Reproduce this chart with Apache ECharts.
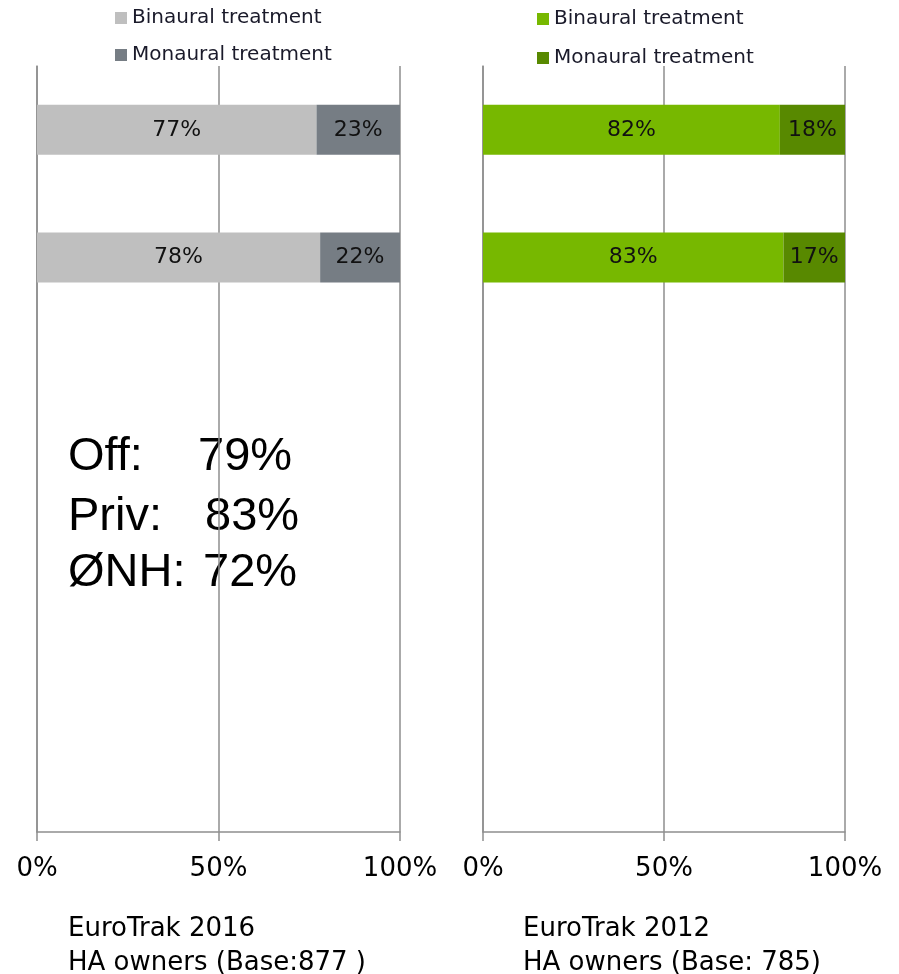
<!DOCTYPE html>
<html>
<head>
<meta charset="utf-8">
<script src="https://cdn.jsdelivr.net/npm/echarts@6/dist/echarts.min.js"></script>
<style>
html,body{margin:0;padding:0;background:#fff;}
#chart{width:899px;height:974px;}
</style>
</head>
<body>
<div id="chart"></div>
<script>
// ---- data ----
var rows = ['r1', 'r2', 'r3', 'r4', 'r5', 'r6'];
var binaural2016 = [77, 78, '-', '-', '-', '-'];
var monaural2016 = [23, 22, '-', '-', '-', '-'];
var binaural2012 = [82, 83, '-', '-', '-', '-'];
var monaural2012 = [18, 17, '-', '-', '-', '-'];
var xTicks = [0, 50, 100];
var noteLabels = ['Off:', 'Priv:', '\u00D8NH:'];
var noteValues = ['79%', '83%', '72%'];
var footer2016 = ['EuroTrak 2016', 'HA owners (Base:877 )'];
var footer2012 = ['EuroTrak 2012', 'HA owners (Base: 785)'];

var FONT = 'DejaVu Sans';
var GRID_COLOR = '#8e8e8e';

function xAxis(gi) {
  return {
    type: 'value', gridIndex: gi, min: xTicks[0], max: xTicks[xTicks.length - 1],
    interval: xTicks[1] - xTicks[0],
    axisLine: {show: true, lineStyle: {color: GRID_COLOR, width: 1.5}},
    axisTick: {show: true, length: 9, lineStyle: {color: GRID_COLOR, width: 1.5}},
    splitLine: {show: true, lineStyle: {color: GRID_COLOR, width: 1.5}},
    axisLabel: {formatter: '{value}%', color: '#000', fontFamily: FONT, fontSize: 26, margin: 24}
  };
}
function yAxis(gi) {
  return {
    type: 'category', gridIndex: gi, data: rows, inverse: true,
    axisLine: {show: true, lineStyle: {color: GRID_COLOR, width: 1.5}},
    axisTick: {show: false}, axisLabel: {show: false}, splitLine: {show: false}
  };
}
function barSeries(name, data, color, gi) {
  return {
    name: name, type: 'bar', stack: 's' + gi, xAxisIndex: gi, yAxisIndex: gi,
    data: data, barWidth: 50, itemStyle: {color: color},
    label: {show: true, position: 'inside', formatter: '{c}%', color: '#111',
            fontFamily: FONT, fontSize: 22}
  };
}
var legendText = {fontFamily: FONT, fontSize: 20, color: '#1a1a2a', lineHeight: 22};
function stripYear(n) { return n.replace(/ \d{4}$/, ''); }

var graphics = [];
var noteX = [[68, 198], [68, 205], [68, 203]];
var noteY = [461, 521, 577];
for (var i = 0; i < noteLabels.length; i++) {
  graphics.push({type: 'text', left: noteX[i][0], top: noteY[i] - 27,
    style: {text: noteLabels[i], font: '47px "Liberation Sans"', fill: '#000'}});
  graphics.push({type: 'text', left: noteX[i][1], top: noteY[i] - 27,
    style: {text: noteValues[i], font: '47px "Liberation Sans"', fill: '#000'}});
}
graphics.push({type: 'text', left: 68, top: 912,
  style: {text: footer2016.join('\n'), font: '26px "DejaVu Sans"', lineHeight: 34, fill: '#000'}});
graphics.push({type: 'text', left: 523, top: 912,
  style: {text: footer2012.join('\n'), font: '26px "DejaVu Sans"', lineHeight: 34, fill: '#000'}});

var chart = echarts.init(document.getElementById('chart'), null, {renderer: 'canvas'});
chart.setOption({
  animation: false,
  backgroundColor: '#fff',
  grid: [
    {left: 37, top: 66, width: 363, height: 766},
    {left: 483, top: 66, width: 362, height: 766}
  ],
  legend: [
    {orient: 'vertical', left: 115, top: 7, padding: 0, itemWidth: 12, itemHeight: 12, itemGap: 15, icon: 'rect',
     data: ['Binaural treatment 2016', 'Monaural treatment 2016'], formatter: stripYear,
     textStyle: legendText, itemStyle: {borderWidth: 0}, selectedMode: false},
    {orient: 'vertical', left: 537, top: 8, padding: 0, itemWidth: 12, itemHeight: 12, itemGap: 17, icon: 'rect',
     data: ['Binaural treatment 2012', 'Monaural treatment 2012'], formatter: stripYear,
     textStyle: legendText, itemStyle: {borderWidth: 0}, selectedMode: false}
  ],
  xAxis: [xAxis(0), xAxis(1)],
  yAxis: [yAxis(0), yAxis(1)],
  series: [
    barSeries('Binaural treatment 2016', binaural2016, '#bfbfbf', 0),
    barSeries('Monaural treatment 2016', monaural2016, '#767d84', 0),
    barSeries('Binaural treatment 2012', binaural2012, '#77b800', 1),
    barSeries('Monaural treatment 2012', monaural2012, '#588900', 1)
  ],
  graphic: graphics
});
</script>
</body>
</html>
